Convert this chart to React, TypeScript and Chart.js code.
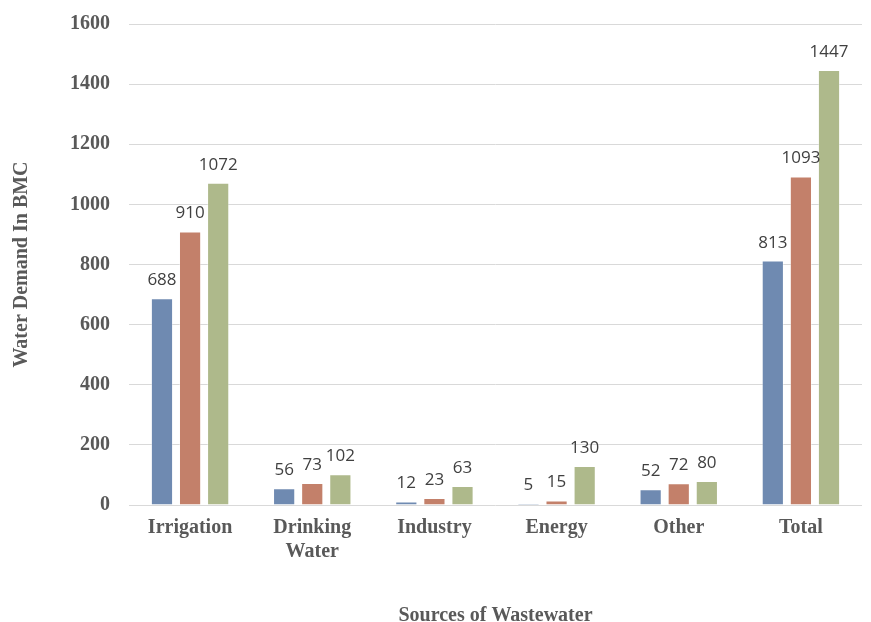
import React, { useEffect, useRef } from "react";
import { Chart, registerables } from "chart.js";

Chart.register(...registerables);

const categories: (string | string[])[] = ["Irrigation", ["Drinking", "Water"], "Industry", "Energy", "Other", "Total"];
const series1 = [688, 56, 12, 5, 52, 813];
const series2 = [910, 73, 23, 15, 72, 1093];
const series3 = [1072, 102, 63, 130, 80, 1447];
const seriesNames = ["Series 1", "Series 2", "Series 3"];
const colors = ["#6f8ab1", "#c3806a", "#aeb98b"];

const labelPlugin = {
  id: "barLabels",
  afterDatasetsDraw(chart: any) {
    const ctx = chart.ctx;
    ctx.save();
    ctx.font = '17px "Open Sans"';
    ctx.fillStyle = "#404040";
    ctx.textAlign = "center";
    ctx.textBaseline = "alphabetic";
    chart.data.datasets.forEach((ds: any, i: number) => {
      const meta = chart.getDatasetMeta(i);
      meta.data.forEach((bar: any, j: number) => {
        ctx.fillText(String(ds.data[j]), bar.x, bar.y - 13);
      });
    });
    ctx.restore();
  },
};

export default function App() {
  const ref = useRef<HTMLCanvasElement>(null);
  useEffect(() => {
    if (!ref.current) return;
    const serif = '"Liberation Serif", "Times New Roman", serif';
    const chart = new Chart(ref.current, {
      type: "bar",
      data: {
        labels: categories,
        datasets: [series1, series2, series3].map((d, i) => ({
          label: seriesNames[i],
          data: d,
          backgroundColor: colors[i],
          borderColor: "rgba(255,255,255,0.35)",
          borderWidth: 1,
          categoryPercentage: 0.69,
          barPercentage: 0.79,
        })),
      },
      options: {
        animation: false,
        responsive: true,
        maintainAspectRatio: false,
        layout: { padding: { top: 22, right: 9, bottom: 0, left: 0 } },
        plugins: { legend: { display: false }, tooltip: { enabled: false } },
        scales: {
          x: {
            grid: { display: false, drawTicks: false },
            border: { display: false },
            ticks: {
              color: "#595959",
              padding: 11,
              font: { family: serif, size: 20, weight: "bold", lineHeight: 1.2 },
              maxRotation: 0,
              autoSkip: false,
            },
            title: {
              display: true,
              text: "Sources of Wastewater",
              color: "#595959",
              font: { family: serif, size: 20, weight: "bold", lineHeight: 1 },
              padding: { top: 31, bottom: -4 },
            },
          },
          y: {
            min: 0,
            max: 1600,
            grid: { color: "#d9d9d9", lineWidth: 1, drawTicks: false },
            border: { display: false },
            ticks: {
              stepSize: 200,
              color: "#595959",
              padding: 19,
              font: { family: serif, size: 20, weight: "bold", lineHeight: 0.5 },
              callback: (v: any) => String(v),
            },
            title: {
              display: true,
              text: "Water Demand In BMC",
              color: "#595959",
              font: { family: serif, size: 20, weight: "bold", lineHeight: 1.2 },
              padding: { top: 10, bottom: 17 },
            },
          },
        },
      },
      plugins: [labelPlugin],
    });
    return () => chart.destroy();
  }, []);
  return (
    <div style={{ position: "absolute", left: 0, top: 0, width: 871, height: 622, background: "#fff" }}>
      <canvas ref={ref} />
    </div>
  );
}
